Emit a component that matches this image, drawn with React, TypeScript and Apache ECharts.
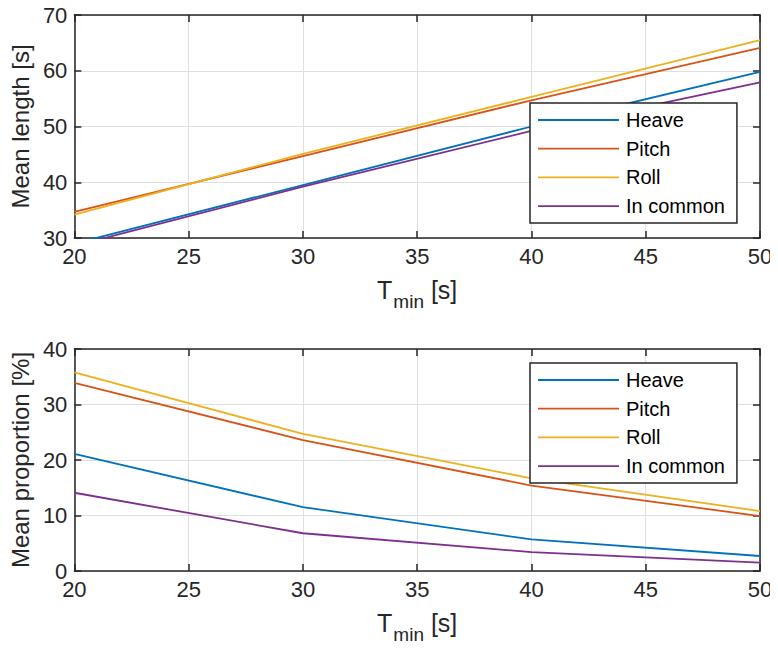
import React, { useEffect, useRef } from "react";
import * as echarts from "echarts";

const tMin = [20, 30, 40, 50];
const seriesNames = ["Heave", "Pitch", "Roll", "In common"];
const colors = ["#0072BD", "#D95319", "#EDB120", "#7E2F8E"];

// Mean length [s]
const lengthHeave = [29.0, 39.5, 50.0, 59.8];
const lengthPitch = [34.7, 44.7, 54.7, 64.1];
const lengthRoll = [34.2, 45.1, 55.3, 65.5];
const lengthCommon = [28.6, 39.2, 49.2, 57.9];

// Mean proportion [%]
const propHeave = [21.1, 11.5, 5.7, 2.7];
const propPitch = [33.9, 23.6, 15.4, 9.9];
const propRoll = [35.8, 24.7, 16.7, 10.8];
const propCommon = [14.1, 6.8, 3.4, 1.5];

const xTicks = { min: 20, max: 50, interval: 5 };
const yTop = { min: 30, max: 70, interval: 10 };
const yBottom = { min: 0, max: 40, interval: 10 };

const AX = "#262626";
const FONT = "'Liberation Sans', Arial, Helvetica, sans-serif";

export default function App() {
  const ref = useRef<HTMLDivElement>(null);
  useEffect(() => {
    if (!ref.current) return;
    const chart = echarts.init(ref.current, undefined, { renderer: "svg" });

    const grids = [
      { left: 73, right: 18, top: 15, height: 223 },
      { left: 73, right: 18, top: 349, height: 222 },
    ];

    const mainX = (gi: number) => ({
      type: "value",
      gridIndex: gi,
      position: "bottom",
      ...xTicks,
      name: "{a|T}{b|min}{a| [s]}",
      nameLocation: "middle",
      nameGap: 39,
      nameTextStyle: {
        color: AX,
        fontFamily: FONT,
        rich: {
          a: { fontSize: 25, lineHeight: 30, verticalAlign: "top", color: AX, fontFamily: FONT },
          b: {
            fontSize: 19,
            lineHeight: 22,
            padding: [15, 0, 0, 1],
            verticalAlign: "top",
            color: AX,
            fontFamily: FONT,
          },
        },
      },
      axisLine: { show: true, onZero: false, lineStyle: { color: AX, width: 1.5 } },
      axisTick: { show: true, inside: true, length: 7, lineStyle: { color: AX, width: 1.5 } },
      axisLabel: { show: true, color: AX, fontSize: 22, fontFamily: FONT, margin: 7 },
      splitLine: { show: true, lineStyle: { color: "#dfdfdf", width: 1 } },
    });
    const boxX = (gi: number) => ({
      type: "value",
      gridIndex: gi,
      position: "top",
      ...xTicks,
      axisLine: { show: true, onZero: false, lineStyle: { color: AX, width: 1.5 } },
      axisTick: { show: true, inside: true, length: 7, lineStyle: { color: AX, width: 1.5 } },
      axisLabel: { show: false },
      splitLine: { show: false },
    });
    const mainY = (gi: number, rng: any, name: string) => ({
      type: "value",
      gridIndex: gi,
      position: "left",
      ...rng,
      name,
      nameLocation: "middle",
      nameGap: 36,
      nameTextStyle: { color: AX, fontSize: 24, fontFamily: FONT },
      axisLine: { show: true, onZero: false, lineStyle: { color: AX, width: 1.5 } },
      axisTick: { show: true, inside: true, length: 7, lineStyle: { color: AX, width: 1.5 } },
      axisLabel: { show: true, color: AX, fontSize: 22, fontFamily: FONT, margin: 7 },
      splitLine: { show: true, lineStyle: { color: "#dfdfdf", width: 1 } },
    });
    const boxY = (gi: number, rng: any) => ({
      type: "value",
      gridIndex: gi,
      position: "right",
      ...rng,
      axisLine: { show: true, onZero: false, lineStyle: { color: AX, width: 1.5 } },
      axisTick: { show: true, inside: true, length: 7, lineStyle: { color: AX, width: 1.5 } },
      axisLabel: { show: false },
      splitLine: { show: false },
    });

    const topData = [lengthHeave, lengthPitch, lengthRoll, lengthCommon];
    const botData = [propHeave, propPitch, propRoll, propCommon];

    const mk = (vals: number[], i: number, gi: number) => ({
      type: "line",
      name: seriesNames[i],
      xAxisIndex: gi * 2,
      yAxisIndex: gi * 2,
      data: tMin.map((t, k) => [t, vals[k]]),
      symbol: "none",
      showSymbol: false,
      clip: true,
      lineStyle: { color: colors[i], width: 1.8 },
      itemStyle: { color: colors[i] },
      z: 3,
    });

    const legend = (top: number) => ({
      orient: "vertical",
      left: 530,
      top,
      data: seriesNames,
      backgroundColor: "#ffffff",
      borderColor: AX,
      borderWidth: 1.5,
      padding: [7, 12, 7, 8],
      itemWidth: 81,
      itemHeight: 20,
      itemGap: 8.7,
      textStyle: { color: "#000", fontSize: 20, fontFamily: FONT, padding: [0, 0, 0, 2] },
      selectedMode: false,
      icon: "path://M0,10 L81,10 L81,11.8 L0,11.8 Z",
    });

    chart.setOption({
      animation: false,
      backgroundColor: "#ffffff",
      grid: grids,
      xAxis: [mainX(0), boxX(0), mainX(1), boxX(1)],
      yAxis: [
        mainY(0, yTop, "Mean length [s]"),
        boxY(0, yTop),
        mainY(1, yBottom, "Mean proportion [%]"),
        boxY(1, yBottom),
      ],
      legend: [legend(103), legend(363)],
      series: [
        ...topData.map((v, i) => mk(v, i, 0)),
        ...botData.map((v, i) => mk(v, i, 1)),
      ],
    });
    return () => chart.dispose();
  }, []);
  return <div ref={ref} style={{ width: 778, height: 655, margin: -8 }} />;
}
